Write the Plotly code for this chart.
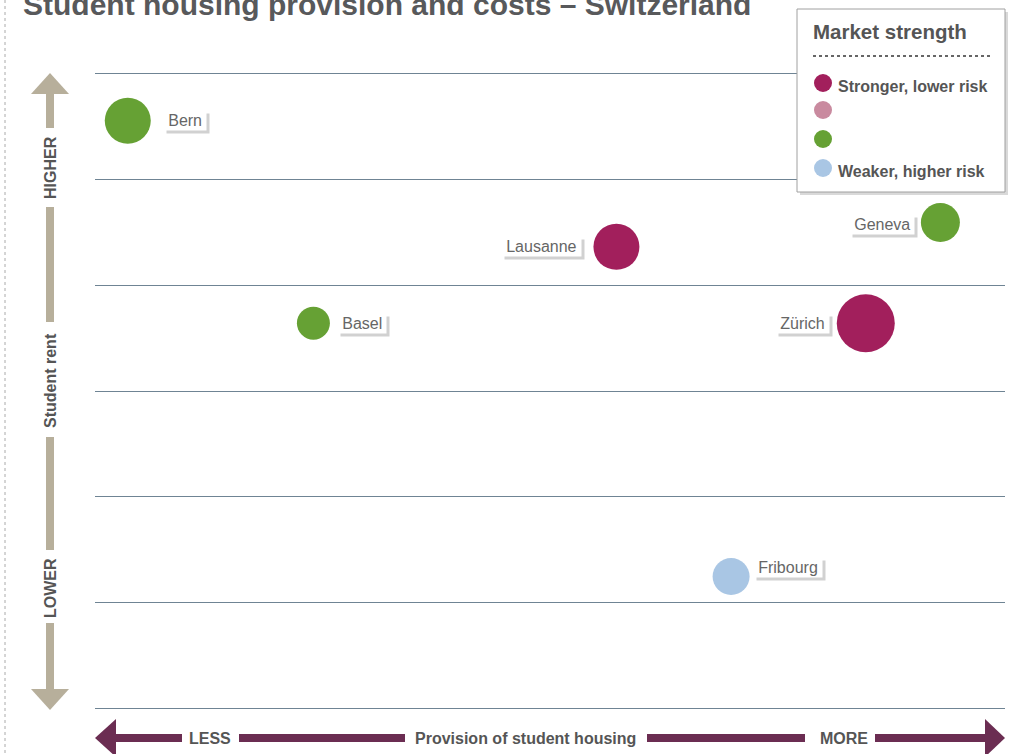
import plotly.graph_objects as go

# ---- data ----
cities = ["Bern", "Lausanne", "Geneva", "Basel", "Zürich", "Fribourg"]
provision = [0.36, 5.73, 9.29, 2.40, 8.47, 6.99]      # x: provision of student housing (0-10)
rent = [5.55, 4.36, 4.59, 3.64, 3.64, 1.25]            # y: student rent (0-6)
bubble_size = [46, 46, 39, 33, 58, 37]
strength = ["Moderate", "Stronger, lower risk", "Moderate", "Moderate", "Stronger, lower risk", "Weaker, higher risk"]

strength_levels = ["Stronger, lower risk", "Strong", "Moderate", "Weaker, higher risk"]
strength_labels = ["Stronger, lower risk", "", "", "Weaker, higher risk"]
strength_colors = ["#a21f5c", "#c98a9f", "#66a134", "#a9c6e4"]
color_of = dict(zip(strength_levels, strength_colors))

title = "Student housing provision and costs – Switzerland"
FONT = "Liberation Sans, Arial, Helvetica, sans-serif"

# label placement (layout, in pixels relative to bubble centre)
label_dx = [35, -34, -25, 24, -36, 22]
label_dy = [0, 0, -2, 0, 0, 9]

# pixel -> paper helpers (plot area 95..1005 x 72..710)
L, R, T, B = 95, 1005, 72, 710
def px(x):
    return (x - L) / (R - L)
def py(y):
    return (B - y) / (B - T)

fig = go.Figure()
fig.add_trace(go.Scatter(
    x=provision, y=rent, mode="markers",
    marker=dict(size=bubble_size, color=[color_of[s] for s in strength], line=dict(width=0), opacity=1),
    hoverinfo="text", text=cities, showlegend=False, cliponaxis=False,
))

shapes = []
annotations = []

# city labels with shadow
for c, xv, yv, dx, dy in zip(cities, provision, rent, label_dx, label_dy):
    anchor = "left" if dx > 0 else "right"
    t = "\u2009" + c + "\u2009"
    annotations.append(dict(x=xv, y=yv, xref="x", yref="y", text=t, showarrow=False,
                            xanchor=anchor, yanchor="middle", xshift=dx + 3, yshift=dy - 3,
                            font=dict(family=FONT, size=16, color="rgba(0,0,0,0)"),
                            bgcolor="rgba(0,0,0,0.18)", borderpad=1))
    annotations.append(dict(x=xv, y=yv, xref="x", yref="y", text=t, showarrow=False,
                            xanchor=anchor, yanchor="middle", xshift=dx, yshift=dy,
                            font=dict(family=FONT, size=16, color="#666666"),
                            bgcolor="white", borderpad=1))

# left dotted border
shapes.append(dict(type="line", xref="paper", yref="paper", x0=px(5), x1=px(5), y0=py(0), y1=py(754),
                   line=dict(color="#aaaaaa", width=1, dash="dot")))

# y-axis arrow
tan = "#b7af9b"
def poly(pts):
    return "M " + " L ".join(f"{px(a)},{py(b)}" for a, b in pts) + " Z"
shapes.append(dict(type="path", xref="paper", yref="paper", path=poly([(50, 73), (69, 94), (31, 94)]),
                   fillcolor=tan, line=dict(width=0)))
shapes.append(dict(type="path", xref="paper", yref="paper", path=poly([(31, 689), (69, 689), (50, 710)]),
                   fillcolor=tan, line=dict(width=0)))
for y0, y1 in [(94, 128), (207, 322), (437, 550), (623, 690)]:
    shapes.append(dict(type="rect", xref="paper", yref="paper", x0=px(46), x1=px(54), y0=py(y1), y1=py(y0),
                       fillcolor=tan, line=dict(width=0)))
for txt, yc in [("HIGHER", 168), ("Student rent", 381), ("LOWER", 588)]:
    annotations.append(dict(x=px(50), y=py(yc), xref="paper", yref="paper", text=f"<b>{txt}</b>",
                            textangle=-90, showarrow=False, xanchor="center", yanchor="middle",
                            font=dict(family=FONT, size=16, color="#555555")))

# x-axis arrow
plum = "#6b2d52"
shapes.append(dict(type="path", xref="paper", yref="paper", path=poly([(95, 738), (116, 719), (116, 757)]),
                   fillcolor=plum, line=dict(width=0)))
shapes.append(dict(type="path", xref="paper", yref="paper", path=poly([(985, 719), (1005, 738), (985, 757)]),
                   fillcolor=plum, line=dict(width=0)))
for x0, x1 in [(116, 182), (239, 405), (647, 805), (875, 986)]:
    shapes.append(dict(type="rect", xref="paper", yref="paper", x0=px(x0), x1=px(x1), y0=py(742), y1=py(734),
                       fillcolor=plum, line=dict(width=0)))
for txt, xc in [("LESS", 210), ("Provision of student housing", 525), ("MORE", 844)]:
    annotations.append(dict(x=px(xc), y=py(738), xref="paper", yref="paper", text=f"<b>{txt}</b>",
                            showarrow=False, xanchor="center", yanchor="middle",
                            font=dict(family=FONT, size=16, color="#555555")))

# legend box
shapes.append(dict(type="rect", xref="paper", yref="paper", x0=px(800), x1=px(1008), y0=py(195), y1=py(12),
                   fillcolor="rgba(0,0,0,0.15)", line=dict(width=0), layer="above"))
shapes.append(dict(type="rect", xref="paper", yref="paper", x0=px(797), x1=px(1005), y0=py(192), y1=py(9),
                   fillcolor="white", line=dict(color="#a0a0a0", width=1), layer="above"))
shapes.append(dict(type="line", xref="paper", yref="paper", x0=px(813), x1=px(990), y0=py(56), y1=py(56),
                   line=dict(color="#666666", width=2, dash="dot"), layer="above"))
annotations.append(dict(x=px(811), y=py(32), xref="paper", yref="paper", text="<b>Market strength</b>",
                        showarrow=False, xanchor="left", yanchor="middle",
                        font=dict(family=FONT, size=20.5, color="#555555")))
for i, (lab, col) in enumerate(zip(strength_labels, strength_colors)):
    yc = [83, 110, 139, 168][i]
    shapes.append(dict(type="circle", xref="paper", yref="paper", x0=px(814), x1=px(832),
                       y0=py(yc + 9), y1=py(yc - 9), fillcolor=col, line=dict(width=0), layer="above"))
    if lab:
        annotations.append(dict(x=px(836), y=py(yc + 3), xref="paper", yref="paper", text=f"<b>{lab}</b>",
                                showarrow=False, xanchor="left", yanchor="middle",
                                font=dict(family=FONT, size=16, color="#555555")))

# title (clipped at top like the reference)
annotations.append(dict(x=px(21), y=py(4), xref="paper", yref="paper", text=f"<b>{title}</b>",
                        showarrow=False, xanchor="left", yanchor="middle",
                        font=dict(family=FONT, size=30, color="#58595b")))

fig.update_layout(
    width=1019, height=754,
    margin=dict(l=L, r=1019 - R, t=T, b=754 - B, autoexpand=False),
    paper_bgcolor="white", plot_bgcolor="white",
    xaxis=dict(range=[0, 10], showgrid=False, zeroline=False, showticklabels=False, ticks="", showline=False),
    yaxis=dict(range=[-0.01, 6.01], dtick=1, tick0=0, showgrid=True, gridcolor="#6f8494", gridwidth=1,
               zeroline=False, showticklabels=False, ticks="", showline=False),
    shapes=shapes, annotations=annotations, showlegend=False,
)

fig.write_html("out.html", config={"displayModeBar": False},
               post_script="document.body.style.margin='0';document.body.style.overflow='hidden';")
